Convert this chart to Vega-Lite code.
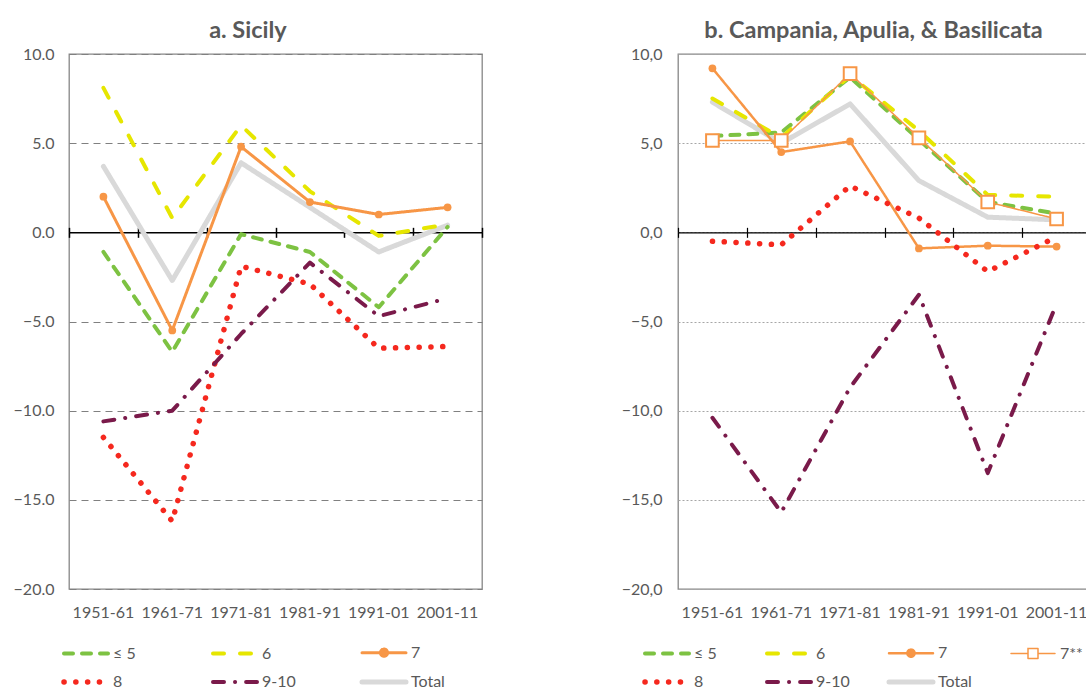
{
  "$schema": "https://vega.github.io/schema/vega-lite/v6.json",
  "background": "white",
  "padding": {"left": 12, "top": 18, "right": 0, "bottom": 0},
  "spacing": 136,
  "config": {
    "font": "Lato",
    "view": {"stroke": "#868686", "strokeWidth": 1.3},
    "axis": {"labelFont": "Lato", "labelFontSize": 16, "labelColor": "#595959", "title": null},
    "title": {"font": "Lato", "fontSize": 23.5, "fontWeight": "bold", "color": "#595959", "anchor": "middle", "frame": "bounds", "offset": 3.3},
    "legend": {"labelFont": "Lato", "labelFontSize": 16, "labelColor": "#595959"}
  },
  "datasets": {
    "sicily": [
      {"period": "1951-61", "series": "≤ 5", "value": -1.1},
      {"period": "1961-71", "series": "≤ 5", "value": -6.7},
      {"period": "1971-81", "series": "≤ 5", "value": -0.1},
      {"period": "1981-91", "series": "≤ 5", "value": -1.1},
      {"period": "1991-01", "series": "≤ 5", "value": -4.2},
      {"period": "2001-11", "series": "≤ 5", "value": 0.3},
      {"period": "1951-61", "series": "6", "value": 8.1},
      {"period": "1961-71", "series": "6", "value": 0.8},
      {"period": "1971-81", "series": "6", "value": 6.0},
      {"period": "1981-91", "series": "6", "value": 2.3},
      {"period": "1991-01", "series": "6", "value": -0.2},
      {"period": "2001-11", "series": "6", "value": 0.45},
      {"period": "1951-61", "series": "7", "value": 2.0},
      {"period": "1961-71", "series": "7", "value": -5.5},
      {"period": "1971-81", "series": "7", "value": 4.8},
      {"period": "1981-91", "series": "7", "value": 1.7},
      {"period": "1991-01", "series": "7", "value": 1.0},
      {"period": "2001-11", "series": "7", "value": 1.4},
      {"period": "1951-61", "series": "8", "value": -11.5},
      {"period": "1961-71", "series": "8", "value": -16.2},
      {"period": "1971-81", "series": "8", "value": -1.9},
      {"period": "1981-91", "series": "8", "value": -2.9},
      {"period": "1991-01", "series": "8", "value": -6.5},
      {"period": "2001-11", "series": "8", "value": -6.4},
      {"period": "1951-61", "series": "9-10", "value": -10.6},
      {"period": "1961-71", "series": "9-10", "value": -10.0},
      {"period": "1971-81", "series": "9-10", "value": -5.7},
      {"period": "1981-91", "series": "9-10", "value": -1.7},
      {"period": "1991-01", "series": "9-10", "value": -4.7},
      {"period": "2001-11", "series": "9-10", "value": -3.7},
      {"period": "1951-61", "series": "Total", "value": 3.7},
      {"period": "1961-71", "series": "Total", "value": -2.7},
      {"period": "1971-81", "series": "Total", "value": 3.9},
      {"period": "1981-91", "series": "Total", "value": 1.4},
      {"period": "1991-01", "series": "Total", "value": -1.1},
      {"period": "2001-11", "series": "Total", "value": 0.4}
    ],
    "campania": [
      {"period": "1951-61", "series": "≤ 5", "value": 5.4},
      {"period": "1961-71", "series": "≤ 5", "value": 5.6},
      {"period": "1971-81", "series": "≤ 5", "value": 8.7},
      {"period": "1981-91", "series": "≤ 5", "value": 5.2},
      {"period": "1991-01", "series": "≤ 5", "value": 1.7},
      {"period": "2001-11", "series": "≤ 5", "value": 1.05},
      {"period": "1951-61", "series": "6", "value": 7.5},
      {"period": "1961-71", "series": "6", "value": 5.3},
      {"period": "1971-81", "series": "6", "value": 8.8},
      {"period": "1981-91", "series": "6", "value": 5.7},
      {"period": "1991-01", "series": "6", "value": 2.1},
      {"period": "2001-11", "series": "6", "value": 2.0},
      {"period": "1951-61", "series": "7", "value": 9.2},
      {"period": "1961-71", "series": "7", "value": 4.5},
      {"period": "1971-81", "series": "7", "value": 5.1},
      {"period": "1981-91", "series": "7", "value": -0.9},
      {"period": "1991-01", "series": "7", "value": -0.75},
      {"period": "2001-11", "series": "7", "value": -0.8},
      {"period": "1951-61", "series": "7**", "value": 5.15},
      {"period": "1961-71", "series": "7**", "value": 5.15},
      {"period": "1971-81", "series": "7**", "value": 8.9},
      {"period": "1981-91", "series": "7**", "value": 5.3},
      {"period": "1991-01", "series": "7**", "value": 1.7},
      {"period": "2001-11", "series": "7**", "value": 0.75},
      {"period": "1951-61", "series": "8", "value": -0.5},
      {"period": "1961-71", "series": "8", "value": -0.7},
      {"period": "1971-81", "series": "8", "value": 2.6},
      {"period": "1981-91", "series": "8", "value": 0.8},
      {"period": "1991-01", "series": "8", "value": -2.2},
      {"period": "2001-11", "series": "8", "value": -0.25},
      {"period": "1951-61", "series": "9-10", "value": -10.4},
      {"period": "1961-71", "series": "9-10", "value": -15.7},
      {"period": "1971-81", "series": "9-10", "value": -8.7},
      {"period": "1981-91", "series": "9-10", "value": -3.5},
      {"period": "1991-01", "series": "9-10", "value": -13.5},
      {"period": "2001-11", "series": "9-10", "value": -4.0},
      {"period": "1951-61", "series": "Total", "value": 7.3},
      {"period": "1961-71", "series": "Total", "value": 5.0},
      {"period": "1971-81", "series": "Total", "value": 7.2},
      {"period": "1981-91", "series": "Total", "value": 2.9},
      {"period": "1991-01", "series": "Total", "value": 0.85},
      {"period": "2001-11", "series": "Total", "value": 0.7}
    ]
  },
  "hconcat": [
    {
      "width": 413,
      "height": 535,
      "title": {"text": "a. Sicily"},
      "data": {"name": "sicily"},
      "encoding": {
        "y": {"field": "value", "type": "quantitative", "scale": {"domain": [-20, 10], "nice": false, "zero": false},
          "axis": {"values": [-20, -15, -10, -5, 0, 5, 10], "format": ".1f", "domain": false, "ticks": false, "labelPadding": 15, "grid": true, "gridColor": "#808080", "gridDash": [7, 5], "gridWidth": 1.2}}
      },
      "layer": [
        {
          "transform": [{"filter": "datum.series === 'Total'"}],
          "mark": {"type": "line", "strokeCap": "round", "strokeJoin": "round"},
          "encoding": {
            "x": {"field": "period", "type": "ordinal", "bandPosition": 0.5, "scale": {"type": "band", "paddingInner": 0, "paddingOuter": 0},
              "axis": {"orient": "bottom", "domain": false, "ticks": false, "tickSize": 0, "labelPadding": 15, "labelAngle": 0, "grid": false}},
            "color": {"field": "series", "type": "nominal",
              "scale": {"domain": ["≤ 5", "6", "7", "8", "9-10", "Total"], "range": ["#7DC242", "#E6E600", "#F79646", "#F5281E", "#7A1A4A", "#D9D9D9"]},
              "legend": {"orient": "none", "legendX": 9, "legendY": 590, "direction": "horizontal", "columns": 3, "title": null, "symbolType": "M-5.5,0H5.5", "symbolSize": 64, "labelOffset": 19, "columnPadding": 56, "rowPadding": 8, "gridAlign": "all", "padding": 0,
                "encode": {"symbols": {"update": {"strokeCap": {"value": "round"},
                  "shape": {"signal": "datum.value === '7' ? 'M-5.5,0H5.5M0.9,0A0.9,0.9,0,1,1,-0.9,0A0.9,0.9,0,1,1,0.9,0' : 'M-5.5,0H5.5'"},
                  "fill": {"signal": "datum.value === '7' ? '#F79646' : 'transparent'"}}}}}},
            "strokeDash": {"field": "series", "type": "nominal",
              "scale": {"domain": ["≤ 5", "6", "7", "8", "9-10", "Total"], "range": [[9, 9], [11, 16], [1, 0], [0.1, 11.7], [11, 11, 0.1, 11], [1, 0]]}},
            "strokeWidth": {"field": "series", "type": "nominal",
              "scale": {"type": "ordinal", "domain": ["≤ 5", "6", "7", "8", "9-10", "Total"], "range": [4, 4, 3, 5.5, 4, 5]}}
          }
        },
        {
          "transform": [{"filter": "datum.series !== 'Total'"}],
          "mark": {"type": "line", "strokeCap": "round", "strokeJoin": "round"},
          "encoding": {
            "x": {"field": "period", "type": "ordinal", "bandPosition": 0.5, "scale": {"type": "band", "paddingInner": 0, "paddingOuter": 0},
              "axis": {"orient": "top", "offset": -178.33, "labels": false, "domain": true, "domainColor": "#000000", "domainWidth": 1.5, "ticks": true, "tickColor": "#000000", "tickWidth": 1.5, "tickSize": 5, "tickBand": "extent", "grid": false}},
            "color": {"field": "series", "type": "nominal", "scale": {"domain": ["≤ 5", "6", "7", "8", "9-10", "Total"]}},
            "strokeDash": {"field": "series", "type": "nominal", "scale": {"domain": ["≤ 5", "6", "7", "8", "9-10", "Total"]}},
            "strokeWidth": {"field": "series", "type": "nominal", "scale": {"type": "ordinal", "domain": ["≤ 5", "6", "7", "8", "9-10", "Total"]}}
          }
        },
        {
          "transform": [{"filter": "datum.series === '7'"}],
          "mark": {"type": "point", "shape": "circle", "filled": true, "color": "#F79646", "opacity": 1, "size": 60},
          "encoding": {
            "x": {"field": "period", "type": "ordinal", "bandPosition": 0.5, "scale": {"type": "band", "paddingInner": 0, "paddingOuter": 0},
              "axis": {"orient": "bottom", "offset": -356.67, "labels": false, "domain": false, "ticks": true, "tickColor": "#000000", "tickWidth": 1.5, "tickSize": 5, "tickBand": "extent", "grid": false}}
          }
        }
      ],
      "resolve": {"axis": {"x": "independent"}}
    },
    {
      "width": 413,
      "height": 535,
      "title": {"text": "b. Campania, Apulia, & Basilicata", "dx": 17},
      "data": {"name": "campania"},
      "encoding": {
        "y": {"field": "value", "type": "quantitative", "scale": {"domain": [-20, 10], "nice": false, "zero": false},
          "axis": {"values": [-20, -15, -10, -5, 0, 5, 10], "labelExpr": "replace(format(datum.value, '.1f'), '.', ',')", "domain": false, "ticks": false, "labelPadding": 16, "grid": true, "gridColor": "#a6a6a6", "gridDash": [2, 2], "gridWidth": 1}}
      },
      "layer": [
        {
          "transform": [{"filter": "datum.series === 'Total'"}],
          "mark": {"type": "line", "strokeCap": "round", "strokeJoin": "round"},
          "encoding": {
            "x": {"field": "period", "type": "ordinal", "bandPosition": 0.5, "scale": {"type": "band", "paddingInner": 0, "paddingOuter": 0},
              "axis": {"orient": "bottom", "domain": false, "ticks": false, "tickSize": 0, "labelPadding": 15, "labelAngle": 0, "grid": false}},
            "color": {"field": "series", "type": "nominal",
              "scale": {"domain": ["≤ 5", "6", "7", "7**", "8", "9-10", "Total"], "range": ["#7DC242", "#E6E600", "#F79646", "#F79646", "#F5281E", "#7A1A4A", "#D9D9D9"]},
              "legend": {"orient": "none", "legendX": -19, "legendY": 590, "direction": "horizontal", "columns": 4, "title": null, "symbolType": "M-5.5,0H5.5", "symbolSize": 64, "labelOffset": 19, "columnPadding": 29, "rowPadding": 8, "gridAlign": "all", "padding": 0,
                "encode": {"symbols": {"update": {"strokeCap": {"value": "round"},
                  "shape": {"signal": "datum.value === '7' ? 'M-5.5,0H5.5M0.9,0A0.9,0.9,0,1,1,-0.9,0A0.9,0.9,0,1,1,0.9,0' : datum.value === '7**' ? 'M-5.5,0H-1.25M1.25,0H5.5M-1.25,-1.25H1.25V1.25H-1.25Z' : 'M-5.5,0H5.5'"},
                  "fill": {"signal": "datum.value === '7' ? '#F79646' : 'transparent'"}}}}}},
            "strokeDash": {"field": "series", "type": "nominal",
              "scale": {"domain": ["≤ 5", "6", "7", "7**", "8", "9-10", "Total"], "range": [[9, 9], [11, 16], [1, 0], [1, 0], [0.1, 11.7], [11, 11, 0.1, 11], [1, 0]]}},
            "strokeWidth": {"field": "series", "type": "nominal",
              "scale": {"type": "ordinal", "domain": ["≤ 5", "6", "7", "7**", "8", "9-10", "Total"], "range": [4, 4, 2.5, 1.5, 5.5, 4, 5]}}
          }
        },
        {
          "transform": [{"filter": "datum.series !== 'Total'"}],
          "mark": {"type": "line", "strokeCap": "round", "strokeJoin": "round"},
          "encoding": {
            "x": {"field": "period", "type": "ordinal", "bandPosition": 0.5, "scale": {"type": "band", "paddingInner": 0, "paddingOuter": 0},
              "axis": {"orient": "top", "offset": -178.33, "labels": false, "domain": true, "domainColor": "#000000", "domainWidth": 1.2, "ticks": true, "tickColor": "#000000", "tickWidth": 1.2, "tickSize": 5, "tickBand": "extent", "grid": false}},
            "color": {"field": "series", "type": "nominal", "scale": {"domain": ["≤ 5", "6", "7", "7**", "8", "9-10", "Total"]}},
            "strokeDash": {"field": "series", "type": "nominal", "scale": {"domain": ["≤ 5", "6", "7", "7**", "8", "9-10", "Total"]}},
            "strokeWidth": {"field": "series", "type": "nominal", "scale": {"type": "ordinal", "domain": ["≤ 5", "6", "7", "7**", "8", "9-10", "Total"]}}
          }
        },
        {
          "transform": [{"filter": "datum.series === '7'"}],
          "mark": {"type": "point", "shape": "circle", "filled": true, "color": "#F79646", "opacity": 1, "size": 60},
          "encoding": {
            "x": {"field": "period", "type": "ordinal", "bandPosition": 0.5, "scale": {"type": "band", "paddingInner": 0, "paddingOuter": 0},
              "axis": {"orient": "bottom", "offset": -356.67, "labels": false, "domain": false, "ticks": true, "tickColor": "#000000", "tickWidth": 1.2, "tickSize": 5, "tickBand": "extent", "grid": false}}
          }
        },
        {
          "transform": [{"filter": "datum.series === '7**'"}],
          "mark": {"type": "point", "shape": "square", "filled": true, "fill": "white", "stroke": "#F79646", "strokeWidth": 2, "opacity": 1, "size": 160},
          "encoding": {
            "x": {"field": "period", "type": "ordinal", "bandPosition": 0.5, "scale": {"type": "band", "paddingInner": 0, "paddingOuter": 0}, "axis": null}
          }
        }
      ],
      "resolve": {"axis": {"x": "independent"}}
    }
  ],
  "resolve": {"scale": {"color": "independent", "strokeDash": "independent", "strokeWidth": "independent", "x": "independent", "y": "independent"}, "legend": {"color": "independent", "strokeDash": "independent", "strokeWidth": "independent"}}
}
